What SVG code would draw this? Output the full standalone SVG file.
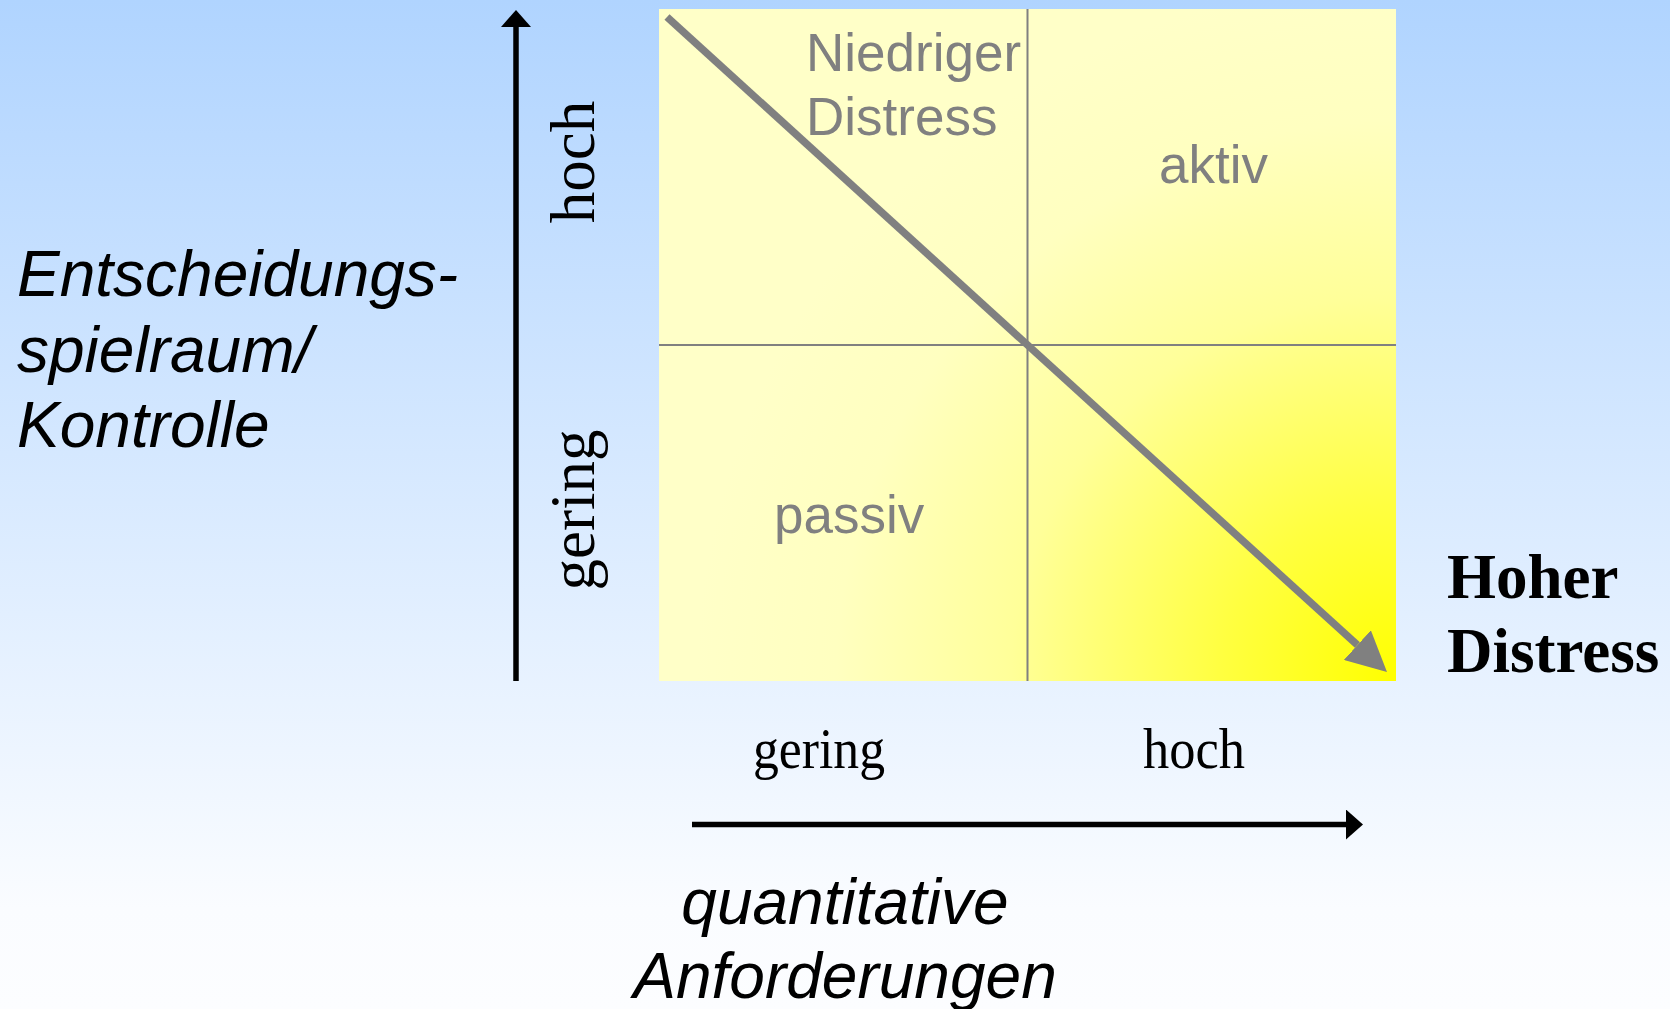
<svg xmlns="http://www.w3.org/2000/svg" width="1670" height="1009" viewBox="0 0 1670 1009">
  <defs>
    <linearGradient id="bg" x1="0" y1="0" x2="0" y2="1">
      <stop offset="0" stop-color="#b0d4ff"/>
      <stop offset="0.9" stop-color="#fafcff"/>
      <stop offset="1" stop-color="#fcfdff"/>
    </linearGradient>
    <radialGradient id="yel" gradientUnits="userSpaceOnUse" cx="1396" cy="681" r="700">
      <stop offset="0" stop-color="#ffff00"/>
      <stop offset="0.25" stop-color="#ffff40"/>
      <stop offset="0.55" stop-color="#ffff99"/>
      <stop offset="0.8" stop-color="#ffffc0"/>
      <stop offset="1" stop-color="#ffffc8"/>
    </radialGradient>
    <marker id="blackHead" markerUnits="userSpaceOnUse" viewBox="0 0 17 30" markerWidth="17" markerHeight="30" refX="0" refY="15" orient="auto">
      <path d="M0,0 L17,15 L0,30 Z" fill="#000"/>
    </marker>
    <marker id="grayHead" markerUnits="userSpaceOnUse" viewBox="0 0 40 40" markerWidth="40" markerHeight="40" refX="0" refY="20" orient="auto">
      <path d="M0,0 L40,20 L0,40 Z" fill="#808080"/>
    </marker>
  </defs>
  <style>
    .sans { font-family: "Liberation Sans", Arial, sans-serif; }
    .serif { font-family: "Liberation Serif", "Times New Roman", serif; }
    .quad { font-size: 53px; fill: #808080; }
    .axislbl { font-size: 64px; font-style: italic; fill: #000; }
    .tick { font-size: 63px; fill: #000; }
    .tickb { font-size: 56px; fill: #000; }
    .big { font-size: 63px; font-weight: bold; fill: #000; }
    .divider { stroke: #808080; stroke-width: 2; fill: none; }
    .axis { stroke: #000; stroke-width: 5.5; fill: none; }
  </style>

  <rect x="0" y="0" width="1670" height="1009" fill="url(#bg)"/>

  <g id="matrix">
    <rect x="659" y="9" width="737" height="672" fill="url(#yel)"/>
    <line class="divider" x1="1027.5" y1="9" x2="1027.5" y2="681"/>
    <line class="divider" x1="659" y1="345" x2="1396" y2="345"/>
  </g>

  <g id="quadrant-niedriger-distress">
    <text class="sans quad" x="806" y="71">Niedriger</text>
    <text class="sans quad" x="806" y="135">Distress</text>
  </g>
  <g id="quadrant-aktiv">
    <text class="sans quad" x="1159" y="183">aktiv</text>
  </g>
  <g id="quadrant-passiv">
    <text class="sans quad" x="774" y="533">passiv</text>
  </g>
  <g id="label-hoher-distress">
    <text class="serif big" x="1447" y="598">Hoher</text>
    <text class="serif big" x="1447" y="672">Distress</text>
  </g>

  <g id="y-axis-label">
    <text class="sans axislbl" x="17" y="296">Entscheidungs-</text>
    <text class="sans axislbl" x="17" y="372">spielraum/</text>
    <text class="sans axislbl" x="17" y="447">Kontrolle</text>
  </g>
  <g id="x-axis-label">
    <text class="sans axislbl" x="845" y="924" text-anchor="middle">quantitative</text>
    <text class="sans axislbl" x="845" y="998" text-anchor="middle">Anforderungen</text>
  </g>

  <g id="y-ticks">
    <text class="serif tick" transform="translate(594,162) rotate(-90)" text-anchor="middle">hoch</text>
    <text class="serif tick" transform="translate(594,510) rotate(-90)" text-anchor="middle">gering</text>
  </g>
  <g id="x-ticks">
    <text class="serif tickb" x="753" y="768" textLength="132" lengthAdjust="spacingAndGlyphs">gering</text>
    <text class="serif tickb" x="1143" y="768" textLength="102" lengthAdjust="spacingAndGlyphs">hoch</text>
  </g>

  <g id="connectors">
    <line class="axis" x1="516" y1="681" x2="516" y2="27" marker-end="url(#blackHead)"/>
    <line class="axis" x1="692" y1="824.5" x2="1346" y2="824.5" marker-end="url(#blackHead)"/>
    <line x1="667" y1="17" x2="1357.4" y2="645.1" stroke="#808080" stroke-width="7.5" marker-end="url(#grayHead)"/>
  </g>
</svg>
